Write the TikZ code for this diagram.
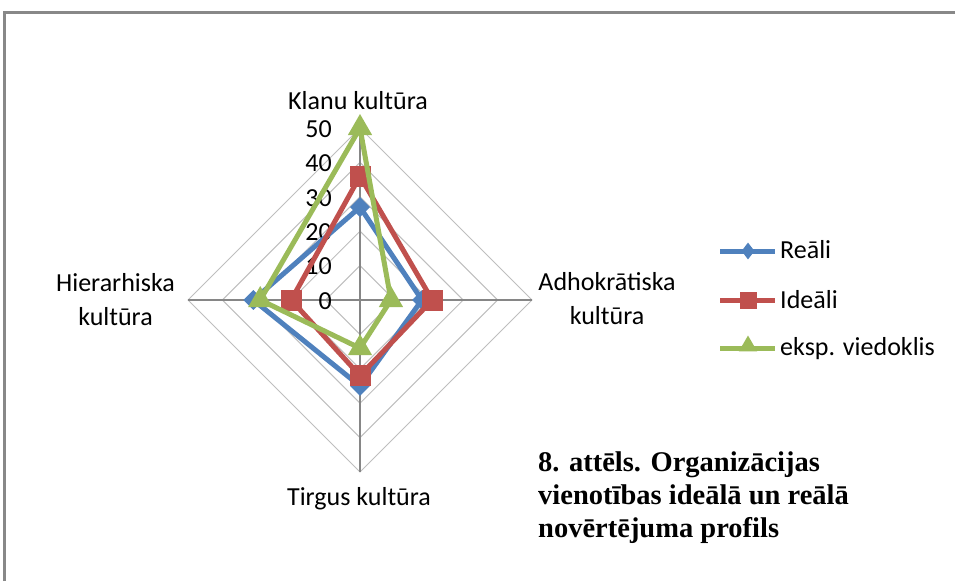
\documentclass[tikz,border=0pt]{standalone}
\usepackage{fontspec}
\setmainfont{Carlito}
\newfontfamily\capfont{Liberation Serif}
\usetikzlibrary{shapes.geometric}
\definecolor{sblue}{HTML}{4F81BD}
\definecolor{sred}{HTML}{C0504D}
\definecolor{sgreen}{HTML}{9BBB59}
\definecolor{ringgray}{HTML}{BEBEBE}
\definecolor{axisgray}{HTML}{868686}
\definecolor{framegray}{HTML}{888888}
\newcommand\radarpts[5]{%
  \coordinate (#1-t) at (360,{300-3.44*#2});
  \coordinate (#1-r) at ({360+3.44*#3},300);
  \coordinate (#1-b) at (360,{300+3.44*#4});
  \coordinate (#1-l) at ({360-3.44*#5},300);}
\begin{document}
\begin{tikzpicture}[x=1pt,y=-1pt,
  lbl/.style={font=\fontsize{26}{34}\selectfont, inner sep=0pt},
  ring/.style={ringgray, line width=1pt},
  axisline/.style={axisgray, line width=1.3pt},
  series/.style={line width=5pt, line join=round},
  bdiam/.style={diamond, fill=sblue, inner sep=0pt, minimum size=20pt},
  rsq/.style={rectangle, fill=sred, inner sep=0pt, minimum size=21pt},
  gtri/.style={regular polygon, regular polygon sides=3, fill=sgreen, inner sep=0pt, minimum size=28pt},
  bdiamL/.style={bdiam, minimum width=13pt, minimum height=17pt},
  rsqL/.style={rsq, minimum size=17pt},
  gtriL/.style={gtri, minimum size=21pt},
  capstyle/.style={font={\capfont\bfseries\fontsize{28.5}{33}\selectfont}, inner sep=0pt, align=left}]
\useasboundingbox (0,0) rectangle (955,581);
% frame
\coordinate (fbl) at (4.5,581);
\coordinate (ftl) at (4.5,12.5);
\coordinate (ftr) at (955,12.5);
\draw[framegray, line width=2.2pt] (fbl) -- (ftl) -- (ftr);
% rings
\foreach \k in {1,...,5}
  \draw[ring] (360,{300-34.4*\k}) -- ({360+34.4*\k},300) -- (360,{300+34.4*\k}) -- ({360-34.4*\k},300) -- cycle;
% axes
\coordinate (ctr) at (360,300);
\coordinate (ax-t) at (360,128);
\coordinate (ax-r) at (532,300);
\coordinate (ax-b) at (360,472);
\coordinate (ax-l) at (188,300);
\draw[axisline] (ax-t) -- (ax-b);
\draw[axisline] (ax-l) -- (ax-r);
% scale labels
\foreach \k in {0,...,5}
  \node[lbl, anchor=east] (n\k) at (332,{301-34.4*\k}) {\the\numexpr\k*10\relax};
% axis labels
\node[lbl, anchor=base] (klanu) at (358,109) {Klanu kultūra};
\node[lbl, anchor=north, align=center] (adho) at (607,272.5) {Adhokrātiska\\kultūra};
\node[lbl, anchor=base] (tirgus) at (359,505) {Tirgus kultūra};
\node[lbl, anchor=north, align=center] (hier) at (115.5,273.5) {Hierarhiska\\kultūra};
% data
\radarpts{re}{27}{18}{25}{31}
\radarpts{id}{36}{21}{22}{20}
\radarpts{ek}{50}{9}{14}{29}
\draw[series, sblue] (re-t) -- (re-r) -- (re-b) -- (re-l) -- cycle;
\foreach \p in {t,r,b,l} \node[bdiam] (re-m-\p) at (re-\p) {};
\draw[series, sred] (id-t) -- (id-r) -- (id-b) -- (id-l) -- cycle;
\foreach \p in {t,r,b,l} \node[rsq] (id-m-\p) at (id-\p) {};
\draw[series, sgreen] (ek-t) -- (ek-r) -- (ek-b) -- (ek-l) -- cycle;
\foreach \p in {t,r,b,l} \node[gtri] (ek-m-\p) at (ek-\p) {};
% legend
\coordinate (l1a) at (720,251); \coordinate (l1b) at (775,251);
\coordinate (l2a) at (720,300); \coordinate (l2b) at (775,300);
\coordinate (l3a) at (720,348); \coordinate (l3b) at (775,348);
\draw[series, sblue] (l1a) -- (l1b);
\node[bdiamL] (lm1) at (748,251) {};
\draw[series, sred] (l2a) -- (l2b);
\node[rsqL] (lm2) at (748,300) {};
\draw[series, sgreen] (l3a) -- (l3b);
\node[gtriL] (lm3) at (748,346) {};
\node[lbl, anchor=base west] (lt1) at (780,258) {Reāli};
\node[lbl, anchor=base west] (lt2) at (780,308) {Ideāli};
\node[lbl, anchor=base west] (lt3) at (780,355) {eksp. viedoklis};
% caption
\node[capstyle, anchor=north west] (cap) at (538,452) {8. attēls. Organizācijas\\vienotības ideālā un reālā\\novērtējuma profils};
\end{tikzpicture}
\end{document}
